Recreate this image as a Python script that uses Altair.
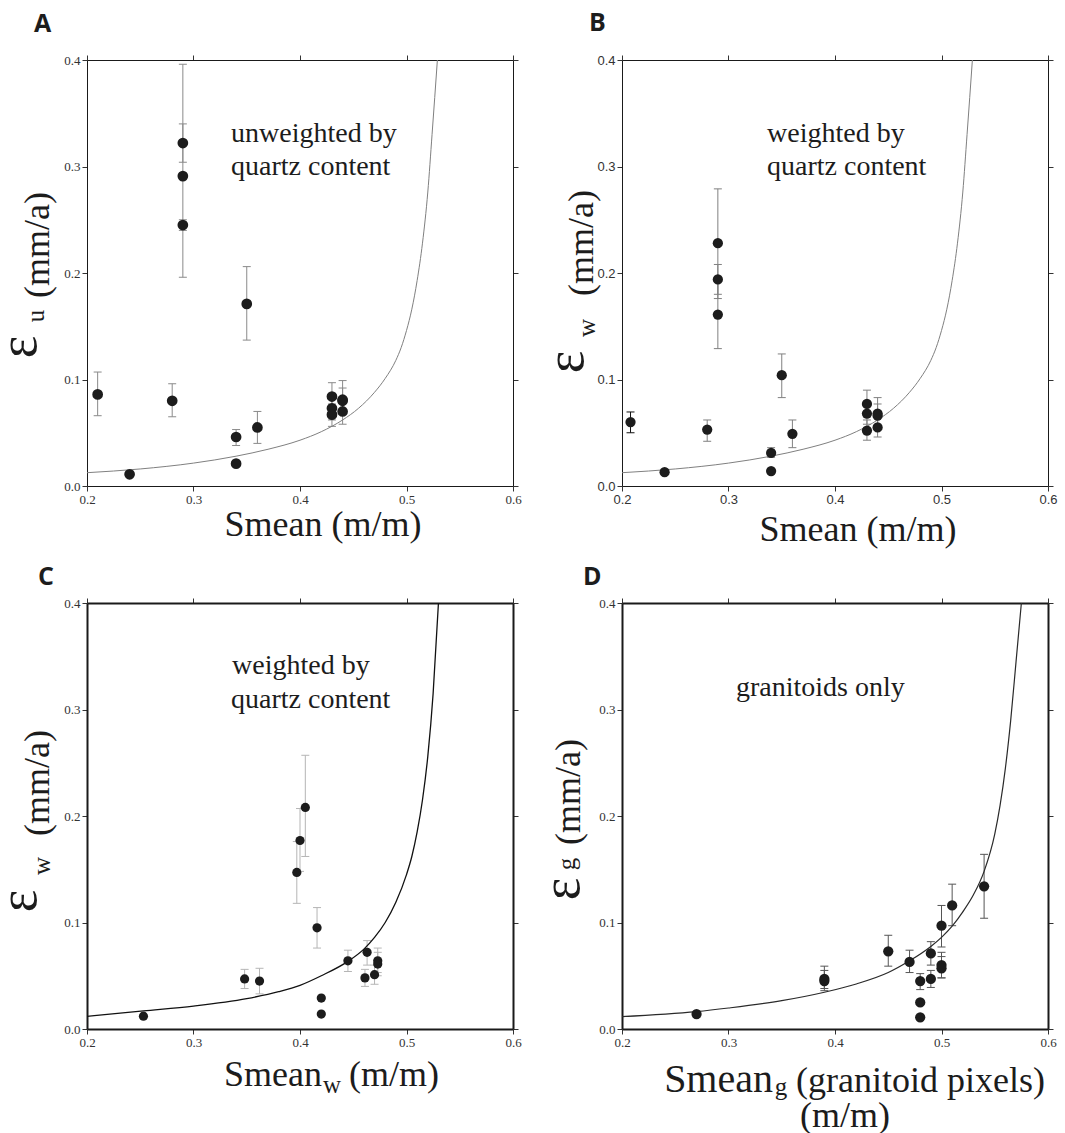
import altair as alt
import pandas as pd

X_TICKS = [0.2, 0.3, 0.4, 0.5, 0.6]
Y_TICKS = [0.0, 0.1, 0.2, 0.3, 0.4]

# ---------------- Panel A (unweighted) ----------------
A_S = [0.21, 0.24, 0.28, 0.29, 0.29, 0.29, 0.34, 0.34, 0.35, 0.36, 0.43, 0.43, 0.43, 0.44, 0.44, 0.44]
A_E = [0.086, 0.011, 0.080, 0.322, 0.291, 0.245, 0.046, 0.021, 0.171, 0.055, 0.084, 0.073, 0.067, 0.081, 0.080, 0.070]
A_LO = [0.066, None, 0.065, 0.304, 0.196, 0.240, 0.038, None, 0.137, 0.040, 0.072, 0.062, 0.056, 0.070, 0.068, 0.058]
A_HI = [0.107, None, 0.096, 0.340, 0.396, 0.250, 0.053, None, 0.206, 0.070, 0.097, 0.083, 0.077, 0.099, 0.092, 0.081]

# ---------------- Panel B (weighted) ----------------
B_S = [0.208, 0.24, 0.28, 0.29, 0.29, 0.29, 0.34, 0.34, 0.35, 0.36, 0.43, 0.43, 0.43, 0.44, 0.44, 0.44]
B_E = [0.060, 0.013, 0.053, 0.228, 0.194, 0.161, 0.031, 0.014, 0.104, 0.049, 0.077, 0.068, 0.052, 0.068, 0.066, 0.055]
B_LO = [0.050, None, 0.042, 0.176, 0.180, 0.129, 0.027, None, 0.083, 0.036, 0.065, 0.058, 0.043, 0.057, 0.056, 0.046]
B_HI = [0.0695, None, 0.062, 0.279, 0.208, 0.193, 0.036, None, 0.124, 0.062, 0.090, 0.078, 0.062, 0.083, 0.077, 0.065]

# ---------------- Panel C (weighted Smean) ----------------
C_S = [0.253, 0.348, 0.362, 0.397, 0.400, 0.405, 0.416, 0.420, 0.420, 0.445, 0.461, 0.463, 0.470, 0.473, 0.473]
C_E = [0.012, 0.047, 0.045, 0.147, 0.177, 0.208, 0.095, 0.029, 0.014, 0.064, 0.048, 0.072, 0.051, 0.064, 0.061]
C_LO = [None, 0.038, 0.033, 0.118, 0.148, 0.162, 0.076, None, None, 0.054, 0.040, 0.060, 0.042, 0.053, 0.050]
C_HI = [None, 0.056, 0.057, 0.176, 0.207, 0.257, 0.114, None, None, 0.074, 0.056, 0.083, 0.060, 0.076, 0.072]

# ---------------- Panel D (granitoids) ----------------
D_S = [0.27, 0.39, 0.39, 0.45, 0.47, 0.48, 0.48, 0.48, 0.49, 0.49, 0.50, 0.50, 0.50, 0.51, 0.54]
D_E = [0.014, 0.047, 0.045, 0.073, 0.063, 0.045, 0.025, 0.011, 0.071, 0.047, 0.097, 0.060, 0.057, 0.116, 0.134]
D_LO = [None, 0.036, 0.038, 0.059, 0.053, 0.037, None, None, 0.060, 0.039, 0.077, 0.048, 0.048, 0.097, 0.104]
D_HI = [None, 0.059, 0.055, 0.088, 0.074, 0.052, None, None, 0.082, 0.055, 0.116, 0.072, 0.068, 0.136, 0.164]

# ---------------- Model curves ----------------
AB_CURVE_S = [0.200, 0.250, 0.300, 0.340, 0.370, 0.400, 0.420, 0.440, 0.455, 0.470, 0.480, 0.490,
              0.495, 0.500, 0.505, 0.510, 0.515, 0.520, 0.524, 0.529]
AB_CURVE_E = [0.0125, 0.0160, 0.0215, 0.0280, 0.0345, 0.0430, 0.0510, 0.0620, 0.0730, 0.0880, 0.1010, 0.1180,
              0.1300, 0.1460, 0.1660, 0.1930, 0.2280, 0.2760, 0.3300, 0.4000]
C_CURVE_S = [0.200, 0.253, 0.300, 0.350, 0.380, 0.400, 0.420, 0.445, 0.460, 0.470, 0.480, 0.490,
             0.500, 0.505, 0.510, 0.515, 0.520, 0.525, 0.530]
C_CURVE_E = [0.0119, 0.0170, 0.0215, 0.0285, 0.0350, 0.0410, 0.0500, 0.0635, 0.0750, 0.0860, 0.1000, 0.1190,
             0.1450, 0.1620, 0.1850, 0.2150, 0.2560, 0.3150, 0.4000]
D_CURVE_S = [0.200, 0.270, 0.300, 0.350, 0.390, 0.420, 0.450, 0.470, 0.490, 0.500, 0.510, 0.520,
             0.530, 0.540, 0.550, 0.555, 0.560, 0.565, 0.570, 0.575]
D_CURVE_E = [0.0116, 0.0163, 0.0197, 0.0266, 0.0345, 0.0423, 0.0530, 0.0640, 0.0775, 0.0860, 0.0965, 0.1100,
             0.1260, 0.1480, 0.1830, 0.2100, 0.2450, 0.2900, 0.3450, 0.4000]

# ---------------- Texts ----------------
ANNOT_A = ["unweighted by", "quartz content"]
ANNOT_B = ["weighted by", "quartz content"]
ANNOT_C = ["weighted by", "quartz content"]
ANNOT_D = ["granitoids only"]
LETTERS = ["A", "B", "C", "D"]
EPS = "ε"
SUBS = ["u", "w", "w", "g"]
YUNIT = "(mm/a)"
XTITLE_AB = "Smean (m/m)"

SERIF = "Liberation Serif"
SANS = "Liberation Sans"
LETTER_FONT = "Open Sans"
INK = "#1c1c1c"


def axis(orient, show_labels, font, dw):
    vals = X_TICKS if orient in ("bottom", "top") else Y_TICKS
    return alt.Axis(orient=orient, values=vals, format=".1f", labels=show_labels, title=None,
                    grid=False, ticks=True, tickSize=5, tickColor="#333", tickWidth=1,
                    domain=True, domainColor="#1a1a1a", domainWidth=dw,
                    labelFont=font, labelFontSize=13, labelColor="#333", labelPadding=2,
                    labelFlush=False, labelOverlap=False)


def txt(s, dx, dy, size, align="left", angle=0, font=SERIF, weight="normal", color=INK):
    return alt.Chart(pd.DataFrame({"t": [s]})).mark_text(
        align=align, baseline="alphabetic", fontSize=size, font=font,
        fontWeight=weight, angle=angle, color=color
    ).encode(x=alt.value(dx), y=alt.value(dy), text="t:N")


def panel(S, E, LO, HI, err_colors, cS, cE, curve_color, curve_w, pt_size, label_font, dw, texts):
    xsc = alt.Scale(domain=[0.2, 0.6], nice=False, zero=False)
    ysc = alt.Scale(domain=[0.0, 0.4], nice=False, zero=False)
    pts = pd.DataFrame({"S": S, "E": E})
    err = pd.DataFrame({"S": S, "lo": LO, "hi": HI, "c": err_colors}).dropna()
    cdf = pd.DataFrame({"S": cS, "E": cE})

    bars = alt.Chart(err).mark_rule(strokeWidth=1).encode(
        x=alt.X("S:Q", scale=xsc, axis=None), y=alt.Y("lo:Q", scale=ysc, axis=None),
        y2="hi:Q", color=alt.Color("c:N", scale=None))
    cap_hi = alt.Chart(err).mark_rule(strokeWidth=1, xOffset=-4, x2Offset=4).encode(
        x=alt.X("S:Q", scale=xsc, axis=None), x2="S:Q",
        y=alt.Y("hi:Q", scale=ysc, axis=None), color=alt.Color("c:N", scale=None))
    cap_lo = alt.Chart(err).mark_rule(strokeWidth=1, xOffset=-4, x2Offset=4).encode(
        x=alt.X("S:Q", scale=xsc, axis=None), x2="S:Q",
        y=alt.Y("lo:Q", scale=ysc, axis=None), color=alt.Color("c:N", scale=None))
    curve = alt.Chart(cdf).mark_line(color=curve_color, strokeWidth=curve_w,
                                     interpolate="monotone", clip=True).encode(
        x=alt.X("S:Q", scale=xsc, axis=axis("top", False, label_font, dw)),
        y=alt.Y("E:Q", scale=ysc, axis=axis("right", False, label_font, dw)))
    points = alt.Chart(pts).mark_circle(size=pt_size, color=INK, opacity=1).encode(
        x=alt.X("S:Q", scale=xsc, axis=axis("bottom", True, label_font, dw)),
        y=alt.Y("E:Q", scale=ysc, axis=axis("left", True, label_font, dw)))
    return alt.layer(bars, cap_hi, cap_lo, curve, points, *texts).resolve_axis(
        x="independent", y="independent").properties(width=426, height=426)


def ytitle(sub, eps_dx, eps_dy, sub_dx, sub_dy, unit_dx, unit_dy):
    return [
        txt(EPS, eps_dx, eps_dy, 54, align="center", angle=270),
        txt(sub, sub_dx, sub_dy, 25, align="center", angle=270),
        txt(YUNIT, unit_dx, unit_dy, 36, align="center", angle=270),
    ]


texts_A = [txt(LETTERS[0], -53, -28, 25, font=LETTER_FONT, weight="bold"),
           txt(ANNOT_A[0], 144, 82, 28), txt(ANNOT_A[1], 144, 115, 28),
           txt(XTITLE_AB, 236, 476, 36, align="center")] + \
          ytitle(SUBS[0], -51, 287, -43, 256, -38, 185)

texts_B = [txt(LETTERS[1], -33, -29, 25, font=LETTER_FONT, weight="bold"),
           txt(ANNOT_B[0], 145, 82, 28), txt(ANNOT_B[1], 145, 115, 28),
           txt(XTITLE_AB, 236, 481, 36, align="center")] + \
          ytitle(SUBS[1], -39, 302, -27, 268, -29, 183)

texts_C = [txt(LETTERS[2], -49, -18, 25, font=LETTER_FONT, weight="bold"),
           txt(ANNOT_C[0], 145, 71, 28), txt(ANNOT_C[1], 144, 105, 28),
           txt("Smean", 235, 483, 36, align="right"),
           txt(SUBS[2], 245, 490, 25, align="center"),
           txt("(m/m)", 262, 483, 36, align="left")] + \
          ytitle(SUBS[2], -51, 298, -37, 263, -38, 180)

texts_D = [txt(LETTERS[3], -39, -18, 25, font=LETTER_FONT, weight="bold"),
           txt(ANNOT_D[0], 114, 93, 28),
           txt("Smean", 151, 489, 40, align="right"),
           txt(SUBS[3], 159, 492, 25, align="center"),
           txt("(granitoid pixels)", 174, 489, 36, align="left"),
           txt("(m/m)", 223, 524, 36, align="center")] + \
          ytitle(SUBS[3], -43, 286, -47, 261, -42, 189)

pA = panel(A_S, A_E, A_LO, A_HI, ["#8a8a8a"] * len(A_S), AB_CURVE_S, AB_CURVE_E,
           "#808080", 1, 115, SERIF, 1, texts_A)
pB = panel(B_S, B_E, B_LO, B_HI, ["#111111"] + ["#808080"] * (len(B_S) - 1), AB_CURVE_S, AB_CURVE_E,
           "#808080", 1, 105, SANS, 1, texts_B)
pC = panel(C_S, C_E, C_LO, C_HI, ["#b5b5b5"] * len(C_S), C_CURVE_S, C_CURVE_E,
           "#111111", 1.3, 85, SERIF, 2, texts_C)
pD = panel(D_S, D_E, D_LO, D_HI, ["#555555"] * len(D_S), D_CURVE_S, D_CURVE_E,
           "#2a2a2a", 1.2, 105, SERIF, 2, texts_D)

chart = alt.ConcatChart(concat=[pA, pB, pC, pD], columns=2,
                        spacing={"row": 117, "column": 109}, bounds="flush").properties(
    padding={"left": -7, "top": 11, "right": 0, "bottom": 0},
    background="white",
).configure_view(stroke=None)

chart.save("out.html", embed_options={"renderer": "svg", "actions": False})
